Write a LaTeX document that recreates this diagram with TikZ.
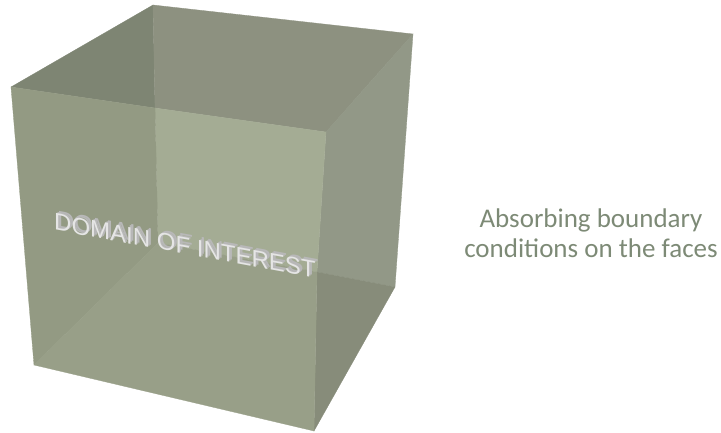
\documentclass[tikz,border=0pt]{standalone}
\usepackage{fontspec}
\newfontfamily\capfont{Carlito}
\newfontfamily\extfont{Liberation Sans}
\definecolor{capc}{HTML}{7D8A76}
\definecolor{fa}{HTML}{7E8573}
\definecolor{fb}{HTML}{8D9180}
\definecolor{fc}{HTML}{929887}
\definecolor{fd}{HTML}{878C7A}
\definecolor{fe}{HTML}{A4AC94}
\definecolor{ff}{HTML}{939A83}
\definecolor{fg}{HTML}{989F88}
\tikzset{
  face/.style={line width=0.3pt,draw=#1,fill=#1},
  domtext/.style={font=\extfont\fontsize{24}{26}\selectfont,inner sep=0pt,anchor=west,transform shape},
}
\begin{document}
\begin{tikzpicture}[x=1pt,y=-1pt]
\useasboundingbox (0,0) rectangle (721,433);
\coordinate (A) at (153,5);
\coordinate (B) at (413,34);
\coordinate (C) at (395,287);
\coordinate (D) at (314,431);
\coordinate (E) at (34,365);
\coordinate (F) at (11,87);
\coordinate (G) at (326,132);
\coordinate (H) at (158,243);
\coordinate (P) at (155,108);
\coordinate (Q) at (317,272);
\path[face=fa] (A) -- (P) -- (F) -- cycle;
\path[face=fb] (A) -- (B) -- (G) -- (P) -- cycle;
\path[face=fc] (B) -- (C) -- (Q) -- (G) -- cycle;
\path[face=fd] (Q) -- (C) -- (D) -- cycle;
\path[face=fe] (P) -- (G) -- (Q) -- (H) -- cycle;
\path[face=ff] (F) -- (P) -- (H) -- (E) -- cycle;
\path[face=fg] (E) -- (H) -- (Q) -- (D) -- cycle;
\begin{scope}[yslant=-0.185]
\foreach \d in {2.8,1.4}
  \node[domtext,text=black!28] at (54+\d,221.5-0.185*54-\d) {DOMAIN OF INTEREST};
\node[domtext,text=white!90!black] (dom) at (54,221.5-0.185*54) {DOMAIN OF INTEREST};
\end{scope}
\node[font=\capfont\fontsize{27}{30}\selectfont,text=capc,align=center,inner sep=0pt] (cap) at (591,233) {Absorbing boundary\\conditions on the faces};
\end{tikzpicture}
\end{document}
